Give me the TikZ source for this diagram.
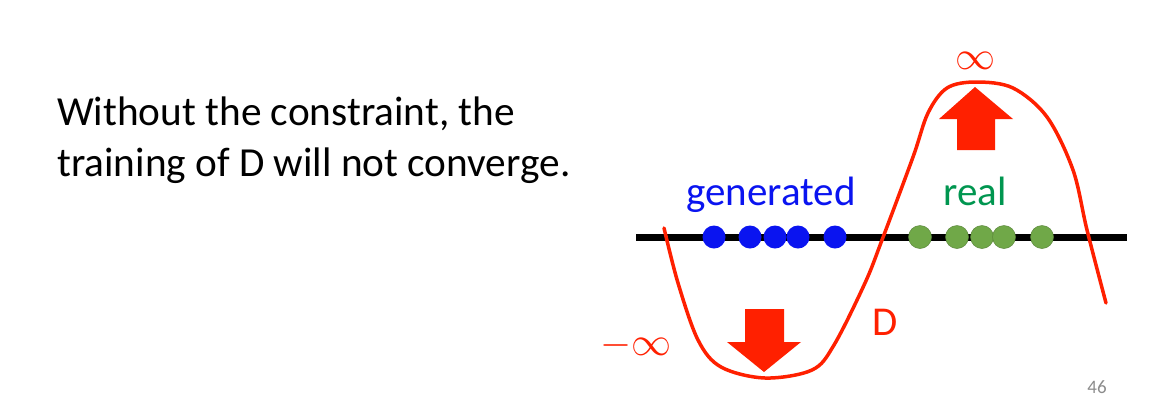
\RequirePackage{fix-cm}
\documentclass[tikz,border=0pt]{standalone}
\usepackage{fontspec}
\setmainfont{Carlito}
\usepackage{tikz}
\usetikzlibrary{positioning}
\definecolor{dred}{RGB}{255,32,0}
\definecolor{dblue}{RGB}{10,20,240}
\definecolor{dgreen}{RGB}{112,168,72}
\definecolor{tgreen}{RGB}{0,150,80}
\begin{document}
\begin{tikzpicture}[x=1pt,y=-1pt,
  big/.style={font=\fontsize{41.3}{51}\selectfont,inner sep=0pt},
  lbl/.style={font=\fontsize{41}{44}\selectfont,inner sep=0pt},
  inf/.style={font=\fontsize{40}{44}\selectfont,text=dred,inner sep=0pt},
  gdot/.style={circle,fill=dblue,minimum size=23pt,inner sep=0pt},
  rdot/.style={circle,fill=dgreen,draw=dgreen!80!black,line width=0.5pt,minimum size=23pt,inner sep=0pt},
  blockarrow/.style={fill=dred,draw=none}]
\useasboundingbox (0,0) rectangle (1159,400);
\fill[white] (0,0) rectangle (1159,400);
% statement
\node[big,align=left,anchor=north west] (txt) at (57,97) {Without the constraint, the\\training of D will not converge.};
% axis with samples
\coordinate (axl) at (636,237);
\coordinate (axr) at (1127,237);
\draw[line width=7pt] (axl) -- (axr);
\foreach \x [count=\i] in {714,750,775,798,835}
  \node[gdot] (g\i) at (\x,237) {};
\foreach \x [count=\i] in {920,957,982,1004,1042}
  \node[rdot] (r\i) at (\x,237) {};
\node[lbl,text=dblue,anchor=base] (gen) at (771,205) {generated};
\node[lbl,text=tgreen,anchor=base] (real) at (975,205) {real};
% discriminator
\draw[dred,line width=3.5pt,line cap=round] plot[smooth,tension=0.55] coordinates {
  (664,228) (678,283) (698,340) (721,367) (765,378) (812,370) (834,345)
  (865,283) (882,240) (913,157) (928,113) (947,88) (976,82) (1013,88)
  (1047,117) (1073,170) (1087,230) (1106,303)};
\node[lbl,text=dred,anchor=base] (D) at (885,335) {D};
\node[inf] (pinf) at (975,61) {$\infty$};
\node[inf] (ninf) at (636,345) {$-\infty$};
% block arrows
\fill[blockarrow] (957,150) -- (957,119) -- (939,119) -- (975,87) -- (1013,119) -- (995,119) -- (995,150) -- cycle;
\fill[blockarrow] (745,309) -- (745,342) -- (727,342) -- (764,372) -- (801,342) -- (784,342) -- (784,309) -- cycle;
% page number
\node[font=\fontsize{19}{20}\selectfont,text=black!45] (pg) at (1097,387) {46};
\end{tikzpicture}
\end{document}
